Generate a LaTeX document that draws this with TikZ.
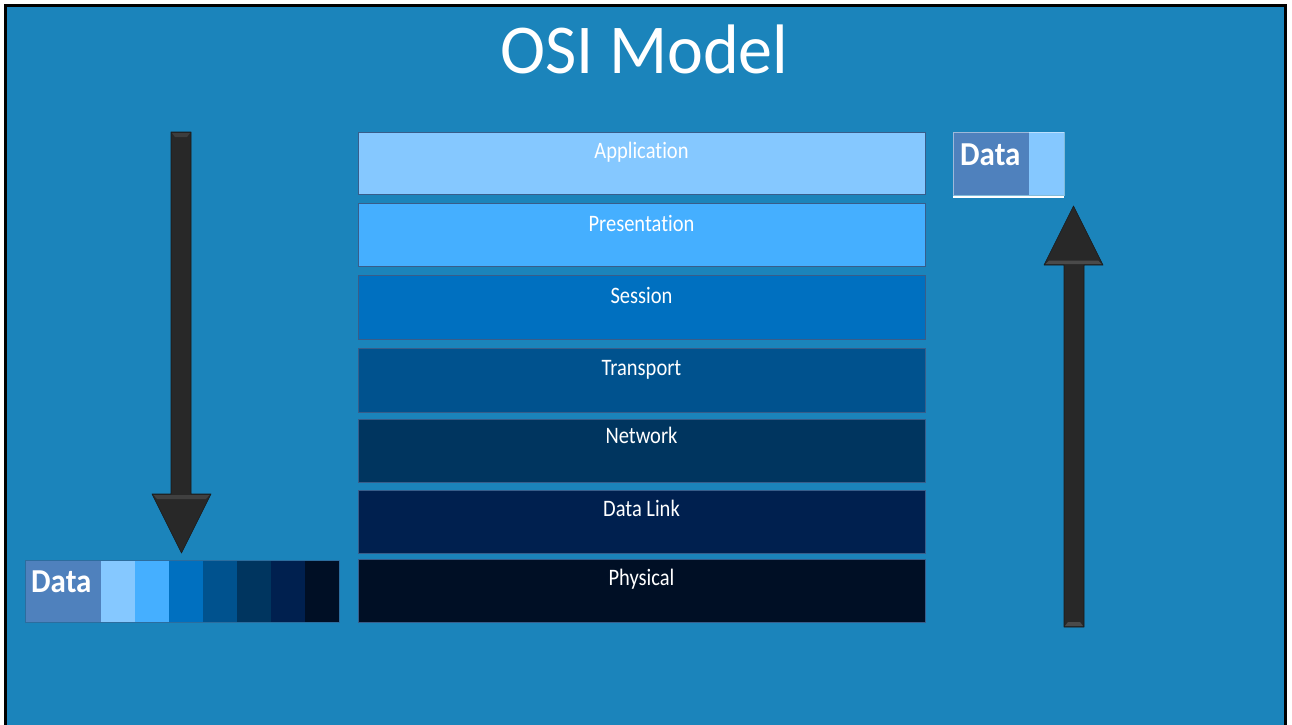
\documentclass[tikz,border=0pt]{standalone}
\usepackage{fontspec}
\setmainfont{Carlito}[Ligatures={NoCommon}]
\usepackage{graphicx}
\definecolor{bg}{HTML}{1B84BB}
\definecolor{edge}{HTML}{385D8A}
\definecolor{dseg}{HTML}{4F81BD}
\definecolor{lA}{HTML}{85C8FF}
\definecolor{lB}{HTML}{45AFFF}
\definecolor{lC}{HTML}{0070C0}
\definecolor{lD}{HTML}{00528E}
\definecolor{lE}{HTML}{00355F}
\definecolor{lF}{HTML}{00204F}
\definecolor{lG}{HTML}{000F25}
\definecolor{arr}{HTML}{282828}
\tikzset{
  layerbox/.style={draw=edge, line width=1pt, anchor=north west, minimum width=567pt, inner sep=0pt},
  layertext/.style={anchor=base, text=white, font=\fontsize{20.5}{24}\selectfont, inner sep=0pt},
  datatext/.style={anchor=base west, text=white, font=\fontsize{31}{36}\selectfont\bfseries, inner sep=0pt},
  seg/.style={anchor=north west, minimum width=34pt, minimum height=62pt, inner sep=0pt, draw=none},
  blockarrow/.style={fill=arr, draw=black!90, line width=0.6pt, line join=round},
}
\begin{document}
\begin{tikzpicture}[x=1pt,y=-1pt]
\useasboundingbox (0,0) rectangle (1292,724);
\clip (0,0) rectangle (1292,724);
\fill[white] (0,0) rectangle (1292,724);
\draw[line width=2.5pt, fill=bg] (5.5,5.5) rectangle (1285.5,760);

% title
\node[anchor=base, text=white, inner sep=0pt, font=\fontsize{68}{80}\selectfont] (title) at (644.5,73) {\scalebox{1}[1.03]{OSI Model}};

% layers
\node[layerbox, fill=lA, minimum height=62pt] (app) at (358,132) {};
\node[layerbox, fill=lB, minimum height=63pt] (pre) at (358,203) {};
\node[layerbox, fill=lC, minimum height=64pt] (ses) at (358,275) {};
\node[layerbox, fill=lD, minimum height=64pt] (tra) at (358,348) {};
\node[layerbox, fill=lE, minimum height=63pt] (net) at (358,419) {};
\node[layerbox, fill=lF, minimum height=63pt] (dl) at (358,490) {};
\node[layerbox, fill=lG, minimum height=63pt] (phy) at (358,559) {};

\node[layertext] (appL) at (641.5,158) {\scalebox{1}[1.15]{Application}};
\node[layertext] (preL) at (641.5,231) {\scalebox{1}[1.15]{Presentation}};
\node[layertext] (sesL) at (641.5,303) {\scalebox{1}[1.15]{Session}};
\node[layertext] (traL) at (641.5,375) {\scalebox{1}[1.15]{Transport}};
\node[layertext] (netL) at (641.5,443) {\scalebox{1}[1.15]{Network}};
\node[layertext] (dlL) at (641.5,516) {\scalebox{1}[1.15]{Data Link}};
\node[layertext] (phyL) at (641.5,585) {\scalebox{1}[1.15]{Physical}};

% left data bar
\node[seg, fill=dseg, minimum width=76pt] (d0) at (25,560) {};
\node[seg, fill=lA] (d1) at (101,560) {};
\node[seg, fill=lB] (d2) at (135,560) {};
\node[seg, fill=lC] (d3) at (169,560) {};
\node[seg, fill=lD] (d4) at (203,560) {};
\node[seg, fill=lE] (d5) at (237,560) {};
\node[seg, fill=lF] (d6) at (271,560) {};
\node[seg, fill=lG] (d7) at (305,560) {};
\draw[edge!60!bg, line width=0.6pt] (d0.north west) rectangle (d7.south east);
\node[datatext] (dataL) at (31,592) {\scalebox{1}[1.08]{Data}};

% right data
\node[seg, fill=dseg, minimum width=76pt, minimum height=63pt] (r0) at (953,132) {};
\node[seg, fill=lA, minimum width=35pt, minimum height=63pt] (r1) at (1029,132) {};
\draw[white, opacity=0.45, line width=0.8pt] (r0.north west) rectangle (r1.south east);
\draw[white, line width=1.5pt] ([yshift=-1.5pt]r0.south west) -- ([yshift=-1.5pt]r1.south east);
\node[datatext] (dataR) at (960,165) {\scalebox{1}[1.08]{Data}};

% down arrow (left)
\draw[blockarrow] (171,132) -- (191,132) -- (191,494) -- (211,494) -- (181.5,553) -- (152,494) -- (171,494) -- cycle;
\fill[black!70, opacity=0.6] (172,133) -- (190,133) -- (187,137) -- (175,137) -- cycle;
\fill[black!65, opacity=0.5] (153.5,495) -- (209.5,495) -- (206,499) -- (157,499) -- cycle;
% up arrow (right)
\draw[blockarrow] (1064,627) -- (1084,627) -- (1084,265) -- (1103,265) -- (1073.5,206) -- (1044,265) -- (1064,265) -- cycle;
\fill[gray!70!black, opacity=0.7] (1045.5,264) -- (1101.5,264) -- (1098,260.5) -- (1049,260.5) -- cycle;
\fill[gray!70!black, opacity=0.7] (1065,626) -- (1083,626) -- (1080,622) -- (1068,622) -- cycle;
\end{tikzpicture}
\end{document}
